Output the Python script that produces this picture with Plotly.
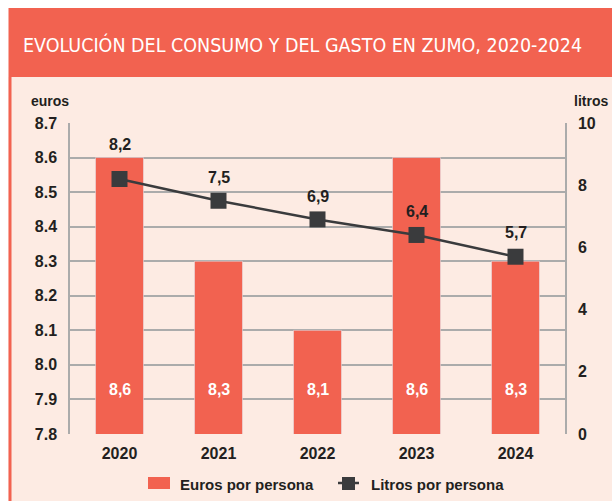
import plotly.graph_objects as go

years = ["2020", "2021", "2022", "2023", "2024"]
euros = [8.6, 8.3, 8.1, 8.6, 8.3]
litros = [8.2, 7.5, 6.9, 6.4, 5.7]
euro_labels = ["8,6", "8,3", "8,1", "8,6", "8,3"]
litro_labels = ["8,2", "7,5", "6,9", "6,4", "5,7"]
series_names = ["Euros por persona", "Litros por persona"]

RED = "#f26250"
PINK = "#fdebe3"
DARK = "#231f20"
LINE = "#3a3b3d"
GRID = "#ababab"

W, H = 612, 501
L, R, T, B = 70, 565, 123, 434

xi = list(range(len(years)))


def px(x):
    return (x - L) / (R - L)


def py(y):
    return (B - y) / (B - T)


fig = go.Figure()
fig.add_trace(go.Bar(
    x=xi, y=euros, name=series_names[0], marker_color=RED,
    width=0.485, yaxis="y", showlegend=False,
))
fig.add_trace(go.Scatter(
    x=xi, y=litros, name=series_names[1], yaxis="y2",
    mode="lines+markers",
    line=dict(color=LINE, width=2.5),
    marker=dict(symbol="square", size=16, color=LINE), showlegend=False,
))

bold = dict(family="Liberation Sans", size=16, color=DARK, weight="bold")

annotations = []
for i, lab in zip(xi, euro_labels):
    annotations.append(dict(x=i, y=7.93, xref="x", yref="y", text=lab,
                            showarrow=False,
                            font=dict(family="Liberation Sans", size=16,
                                      color="white", weight="bold")))
label_shift = [34, 23, 23, 23, 24]
for i, v, lab, s in zip(xi, litros, litro_labels, label_shift):
    annotations.append(dict(x=i, y=v, xref="x", yref="y2", text=lab,
                            showarrow=False, yshift=s, font=bold))

annotations += [
    dict(x=px(21), y=py(45), xref="paper", yref="paper",
         text="EVOLUCIÓN DEL CONSUMO Y DEL GASTO EN ZUMO, 2020-2024",
         showarrow=False, xanchor="left", yanchor="middle",
         font=dict(family="DejaVu Sans Condensed", size=19.5, color="white")),
    dict(x=px(29), y=py(101), xref="paper", yref="paper", text="euros",
         showarrow=False, xanchor="left", yanchor="middle",
         font=dict(family="Liberation Sans", size=14, color=DARK, weight="bold")),
    dict(x=px(610), y=py(101), xref="paper", yref="paper", text="litros",
         showarrow=False, xanchor="right", yanchor="middle",
         font=dict(family="Liberation Sans", size=14, color=DARK, weight="bold")),
    # legend texts
    dict(x=px(178), y=py(484), xref="paper", yref="paper", text=series_names[0],
         showarrow=False, xanchor="left", yanchor="middle",
         font=dict(family="Liberation Sans", size=15, color=DARK, weight="bold")),
    dict(x=px(369), y=py(484), xref="paper", yref="paper", text=series_names[1],
         showarrow=False, xanchor="left", yanchor="middle",
         font=dict(family="Liberation Sans", size=15, color=DARK, weight="bold")),
]

shapes = [
    dict(type="rect", xref="paper", yref="paper", x0=px(8.5), x1=px(613),
         y0=py(502), y1=py(77), fillcolor=PINK, line_width=0, layer="below"),
    dict(type="rect", xref="paper", yref="paper", x0=px(8.5), x1=px(613),
         y0=py(77), y1=py(8), fillcolor=RED, line_width=0, layer="below"),
    dict(type="rect", xref="paper", yref="paper", x0=px(8.5), x1=px(11.5),
         y0=py(502), y1=py(77), fillcolor=RED, line_width=0, layer="below"),
    # legend swatches
    dict(type="rect", xref="paper", yref="paper", x0=px(148), x1=px(170),
         y0=py(489), y1=py(477), fillcolor=RED, line_width=0),
    dict(type="line", xref="paper", yref="paper", x0=px(338), x1=px(359),
         y0=py(483), y1=py(483), line=dict(color=LINE, width=2.5)),
    dict(type="rect", xref="paper", yref="paper", x0=px(342), x1=px(355),
         y0=py(490), y1=py(477), fillcolor=LINE, line_width=0),
]

fig.update_layout(
    width=W, height=H,
    margin=dict(l=L, r=W - R, t=T, b=H - B, autoexpand=False),
    paper_bgcolor="white",
    plot_bgcolor=PINK,
    showlegend=False,
    xaxis=dict(range=[-0.5, len(years) - 0.5], tickvals=xi, ticktext=years,
               showgrid=False, showline=False, zeroline=False, ticks="",
               tickfont=bold, ticklabelstandoff=8, automargin=False),
    yaxis=dict(range=[7.8, 8.7], dtick=0.1, tickformat=".1f", tickfont=bold,
               showgrid=True, gridcolor=GRID, gridwidth=1.5, showline=True,
               linecolor=GRID, linewidth=1.5, zeroline=False, ticks="",
               ticklabelstandoff=8, automargin=False),
    yaxis2=dict(range=[0, 10], dtick=2, overlaying="y", side="right",
                tickfont=bold, showgrid=False, showline=True, linecolor=GRID,
                linewidth=1.5, zeroline=False, ticks="", ticklabelstandoff=8,
                automargin=False),
    annotations=annotations,
    shapes=shapes,
)

fig.write_html(
    "out.html",
    config={"displayModeBar": False},
    post_script="document.body.style.margin='0';"
                "document.body.style.overflow='hidden';",
)
